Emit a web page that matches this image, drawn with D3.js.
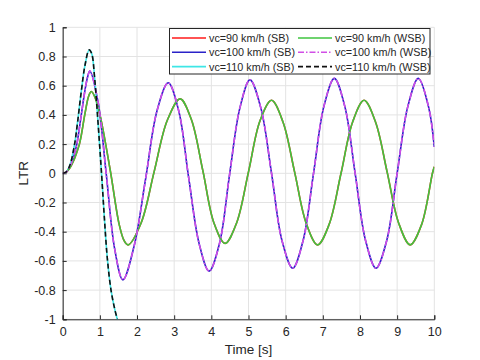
<!DOCTYPE html>
<html>
<head>
<meta charset="utf-8">
<script src="https://cdn.jsdelivr.net/npm/d3@7"></script>
<style>
  body { margin: 0; background: #fff; }
  svg { display: block; font-family: "Liberation Sans", Arial, sans-serif; }
</style>
</head>
<body>
<div id="chart"></div>
<script>
// values: time [s] and LTR for each speed
const t90 = [0, 0.1, 0.2, 0.3, 0.4, 0.45, 0.5, 0.6, 0.7, 0.77, 0.87, 1.02, 1.28, 1.52, 1.65, 1.76,
  2.11, 2.46, 2.81, 3.16, 3.46, 3.77, 4.07, 4.37, 4.68, 5.0, 5.31, 5.62, 5.93, 6.24, 6.55, 6.86,
  7.17, 7.49, 7.8, 8.11, 8.42, 8.73, 9.04, 9.35, 9.66, 9.95, 10];
const ltr90 = [0, 0.01, 0.04, 0.09, 0.16, 0.2, 0.26, 0.41, 0.53, 0.56, 0.52, 0.38, 0.02, -0.35, -0.46, -0.49,
  -0.34, 0.01, 0.36, 0.51, 0.37, 0.02, -0.34, -0.48, -0.34, 0.01, 0.36, 0.5, 0.35, 0.01, -0.34, -0.49,
  -0.35, 0, 0.35, 0.5, 0.35, 0.01, -0.34, -0.49, -0.35, 0, 0.045];

const t100 = [0, 0.1, 0.2, 0.3, 0.38, 0.5, 0.6, 0.67, 0.73, 0.95, 1.17, 1.4, 1.62,
  1.92, 2.23, 2.54, 2.84, 3.12, 3.39, 3.67, 3.94, 4.22, 4.49, 4.77, 5.04, 5.33, 5.62, 5.9, 6.19,
  6.47, 6.75, 7.03, 7.31, 7.59, 7.87, 8.15, 8.43, 8.72, 9.0, 9.29, 9.57, 9.85, 10];
const ltr100 = [0, 0.01, 0.05, 0.12, 0.2, 0.4, 0.57, 0.66, 0.7, 0.49, 0, -0.52, -0.73,
  -0.5, -0.04, 0.43, 0.62, 0.43, -0.03, -0.48, -0.67, -0.48, -0.01, 0.45, 0.64, 0.45, 0, -0.46, -0.65,
  -0.46, 0, 0.46, 0.65, 0.46, 0, -0.46, -0.65, -0.46, 0, 0.46, 0.65, 0.45, 0.18];

const t110 = [0, 0.1, 0.2, 0.32, 0.4, 0.5, 0.6, 0.71, 0.78, 0.86, 0.95, 1.05, 1.12, 1.2, 1.3, 1.4, 1.47, 1.55];
const ltr110 = [0, 0.01, 0.06, 0.2, 0.35, 0.56, 0.74, 0.845, 0.82, 0.65, 0.35, -0.02, -0.3, -0.58, -0.8, -0.93, -1.0, -1.08];

const xTicks = [0, 1, 2, 3, 4, 5, 6, 7, 8, 9, 10];
const yTicks = [-1, -0.8, -0.6, -0.4, -0.2, 0, 0.2, 0.4, 0.6, 0.8, 1];

const seriesNames = ["vc=90 km/h (SB)", "vc=100 km/h (SB)", "vc=110 km/h (SB)",
  "vc=90 km/h (WSB)", "vc=100 km/h (WSB)", "vc=110 km/h (WSB)"];

const W = 480, H = 360;
const x = d3.scaleLinear().domain([0, 10]).range([62.7, 434.3]);
const y = d3.scaleLinear().domain([-1, 1]).range([319.3, 27.3]);

const svg = d3.select("#chart").append("svg").attr("width", W).attr("height", H);

svg.append("defs").append("clipPath").attr("id", "plot")
  .append("rect").attr("x", x(0)).attr("y", y(1))
  .attr("width", x(10) - x(0)).attr("height", y(-1) - y(1));

// grid
svg.append("g").selectAll("line").data(xTicks).join("line")
  .attr("x1", d => x(d)).attr("x2", d => x(d)).attr("y1", y(-1)).attr("y2", y(1))
  .attr("stroke", "#e3e3e3").attr("stroke-width", 1);
svg.append("g").selectAll("line").data(yTicks).join("line")
  .attr("y1", d => y(d)).attr("y2", d => y(d)).attr("x1", x(0)).attr("x2", x(10))
  .attr("stroke", "#e3e3e3").attr("stroke-width", 1);

// axes, ticks pointing inward like matlab
const xAxis = svg.append("g").attr("transform", `translate(0,${y(-1)})`)
  .call(d3.axisBottom(x).tickValues(xTicks).tickSize(-4).tickPadding(8).tickFormat(d3.format("d")));
const yAxis = svg.append("g").attr("transform", `translate(${x(0)},0)`)
  .call(d3.axisLeft(y).tickValues(yTicks).tickSize(-4).tickPadding(7).tickFormat(d => d === 0 ? "0" : String(d)));
[xAxis, yAxis].forEach(a => {
  a.select(".domain").attr("stroke", "#262626");
  a.selectAll(".tick line").attr("stroke", "#262626");
  a.selectAll("text").attr("fill", "#262626").style("font-size", "12.5px")
    .style("font-family", "'Liberation Sans', Arial, sans-serif");
});

svg.append("text").attr("x", x(5)).attr("y", 354).attr("text-anchor", "middle")
  .attr("fill", "#262626").style("font-size", "13.5px").text("Time [s]");
svg.append("text").attr("transform", `translate(28,${y(0)}) rotate(-90)`).attr("text-anchor", "middle")
  .attr("fill", "#262626").style("font-size", "13.5px").text("LTR");

const line = d3.line().x(d => x(d[0])).y(d => y(d[1])).curve(d3.curveCatmullRom.alpha(0.5));
const pts = (ts, vs) => ts.map((t, i) => [t, vs[i]]);

// plot order: SB lines first, WSB lines on top
const styles = [
  { data: pts(t90, ltr90), color: "#ff1a1a", dash: null },
  { data: pts(t100, ltr100), color: "#2a22c8", dash: null },
  { data: pts(t110, ltr110), color: "#3ee6e6", dash: null },
  { data: pts(t90, ltr90), color: "#3fc43f", dash: null },
  { data: pts(t100, ltr100), color: "#d14ee6", dash: "6,2,1.5,2" },
  { data: pts(t110, ltr110), color: "#111111", dash: "5,3" }
];

const plot = svg.append("g").attr("clip-path", "url(#plot)");
plot.selectAll("path").data(styles).join("path")
  .attr("d", d => line(d.data))
  .attr("fill", "none")
  .attr("stroke", d => d.color)
  .attr("stroke-width", 1.6)
  .attr("stroke-dasharray", d => d.dash);

// legend, two columns
const lg = svg.append("g");
lg.append("rect").attr("x", 169.5).attr("y", 28.5).attr("width", 260.5).attr("height", 45.5)
  .attr("fill", "#fff").attr("stroke", "#262626").attr("stroke-width", 1);
const colX = [172, 298], rowY = [38, 52.3, 66.6];
styles.forEach((s, i) => {
  const cx = colX[Math.floor(i / 3)], cy = rowY[i % 3];
  lg.append("line").attr("x1", cx).attr("x2", cx + 34).attr("y1", cy).attr("y2", cy)
    .attr("stroke", s.color).attr("stroke-width", 1.6).attr("stroke-dasharray", s.dash);
  lg.append("text").attr("x", cx + 37).attr("y", cy + 4).attr("fill", "#262626")
    .style("font-size", "10.8px").text(seriesNames[i]);
});
</script>
</body>
</html>
